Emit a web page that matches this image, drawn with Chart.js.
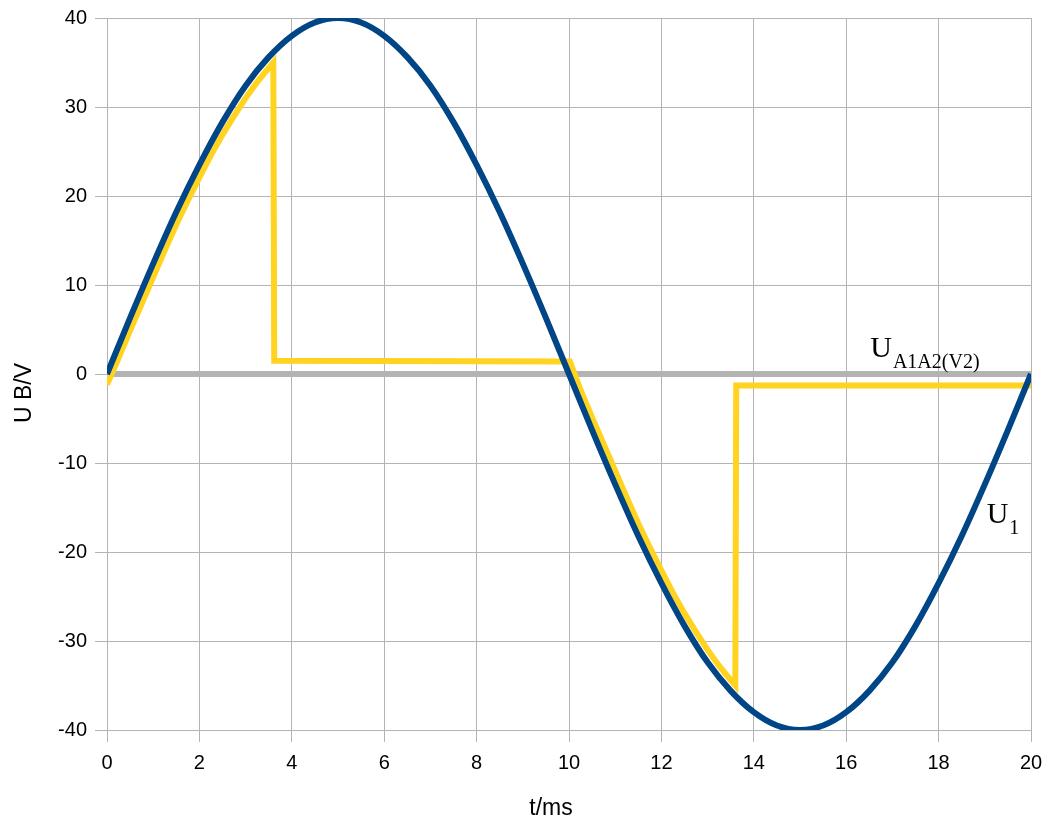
<!DOCTYPE html>
<html>
<head>
<meta charset="utf-8">
<title>U1 / UA1A2</title>
<script src="https://cdn.jsdelivr.net/npm/chart.js@4.4.1/dist/chart.umd.min.js"></script>
<style>
  html, body { margin: 0; padding: 0; background: #fff; }
  #chartBox { width: 1045px; height: 819px; }
</style>
</head>
<body>
<div id="chartBox"><canvas id="chart" width="1045" height="819"></canvas></div>
<script>
// U1 (supply), every 0.5 ms
const u1Time = [0, 0.5, 1, 1.5, 2, 2.5, 3, 3.5, 4, 4.5, 5, 5.5, 6, 6.5, 7, 7.5, 8, 8.5, 9, 9.5, 10,
  10.5, 11, 11.5, 12, 12.5, 13, 13.5, 14, 14.5, 15, 15.5, 16, 16.5, 17, 17.5, 18, 18.5, 19, 19.5, 20];
const u1Values = [0, 6.3, 12.4, 18.2, 23.5, 28.3, 32.4, 35.6, 38.0, 39.5, 40, 39.5, 38.0, 35.6, 32.4, 28.3, 23.5, 18.2, 12.4, 6.3, 0,
  -6.3, -12.4, -18.2, -23.5, -28.3, -32.4, -35.6, -38.0, -39.5, -40, -39.5, -38.0, -35.6, -32.4, -28.3, -23.5, -18.2, -12.4, -6.3, 0];

// yellow trace (switched output)
const yellowTime = [0, 0.25, 0.5, 0.75, 1, 1.25, 1.5, 1.75, 2, 2.25, 2.5, 2.75, 3, 3.25, 3.5, 3.6, 3.62,
  10.02, 10.25, 10.5, 10.75, 11, 11.25, 11.5, 11.75, 12, 12.25, 12.5, 12.75, 13, 13.25, 13.5, 13.6, 13.62, 20];
const yellowValues = [-1.2, 1.8, 4.9, 7.9, 10.9, 13.9, 16.8, 19.5, 22.1, 24.6, 26.9, 29.0, 31.0, 32.8, 34.4, 35.0, 1.5,
  1.4, -1.8, -4.9, -7.9, -10.9, -13.9, -16.8, -19.5, -22.1, -24.6, -26.9, -29.0, -31.0, -32.8, -34.4, -35.0, -1.3, -1.3];

// UA1A2(V2) trace
const grayTime = [0, 20];
const grayValues = [0, 0];

const xTicks = [0, 2, 4, 6, 8, 10, 12, 14, 16, 18, 20];
const yTicks = [-40, -30, -20, -10, 0, 10, 20, 30, 40];

const xTitle = "t/ms";
const yTitle = "U B/V";

// curve labels: main text, subscript, anchor in data units
const labelMain = ["U", "U"];
const labelSub = ["A1A2(V2)", "1"];
const labelT = [16.52, 19.04];
const labelV = [1.94, -16.74];

function toPoints(xs, ys) {
  return xs.map((x, i) => ({ x: x, y: ys[i] }));
}

const textPlugin = {
  id: "textPlugin",
  afterDatasetsDraw(chart) {
    const ctx = chart.ctx;
    const xs = chart.scales.x;
    const ys = chart.scales.y;
    const area = chart.chartArea;
    ctx.save();
    ctx.fillStyle = "#000";

    // axis titles
    ctx.font = "23px 'Liberation Sans', Arial, sans-serif";
    ctx.textAlign = "center";
    ctx.textBaseline = "alphabetic";
    ctx.fillText(xTitle, (area.left + area.right) / 2 - 18, 815);
    ctx.save();
    ctx.translate(31, (area.top + area.bottom) / 2 + 19);
    ctx.rotate(-Math.PI / 2);
    ctx.fillText(yTitle, 0, 0);
    ctx.restore();

    // curve labels
    ctx.textAlign = "left";
    labelMain.forEach((txt, i) => {
      const px = xs.getPixelForValue(labelT[i]);
      const py = ys.getPixelForValue(labelV[i]);
      ctx.font = "30px 'Liberation Serif', 'Times New Roman', serif";
      ctx.fillText(txt, px, py);
      const w = ctx.measureText(txt).width;
      ctx.font = "20px 'Liberation Serif', 'Times New Roman', serif";
      ctx.fillText(labelSub[i], px + w + 1, py + 11);
    });
    ctx.restore();
  }
};

const gridColor = "#b3b3b3";
const tickFont = { family: "'Liberation Sans', Arial, sans-serif", size: 20 };

const chart = new Chart(document.getElementById("chart"), {
  type: "line",
  data: {
    datasets: [
      {
        label: "U1",
        data: toPoints(u1Time, u1Values),
        borderColor: "#004586",
        borderWidth: 6,
        pointRadius: 0,
        cubicInterpolationMode: "monotone",
        order: 0
      },
      {
        label: "U",
        data: toPoints(yellowTime, yellowValues),
        borderColor: "#ffd320",
        borderWidth: 6,
        pointRadius: 0,
        tension: 0,
        order: 1
      },
      {
        label: "UA1A2(V2)",
        data: toPoints(grayTime, grayValues),
        borderColor: "#b3b3b3",
        borderWidth: 6,
        pointRadius: 0,
        tension: 0,
        order: 2
      }
    ]
  },
  options: {
    responsive: false,
    devicePixelRatio: 1,
    animation: false,
    layout: { padding: { top: 18, right: 14, left: 0, bottom: 0 } },
    plugins: {
      legend: { display: false },
      tooltip: { enabled: false }
    },
    scales: {
      x: {
        type: "linear",
        min: 0,
        max: 20,
        afterBuildTicks: (scale) => { scale.ticks = xTicks.map(v => ({ value: v })); },
        afterFit: (scale) => {
          scale.height = 89;
          scale.paddingLeft = 0;
          scale.paddingRight = 0;
        },
        grid: { color: gridColor, lineWidth: 1, tickLength: 12, drawTicks: true },
        border: { color: gridColor },
        ticks: { font: tickFont, color: "#000", padding: 9, maxRotation: 0 }
      },
      y: {
        type: "linear",
        min: -40,
        max: 40,
        afterBuildTicks: (scale) => { scale.ticks = yTicks.map(v => ({ value: v })); },
        afterFit: (scale) => {
          scale.width = 107;
          scale.paddingTop = 0;
          scale.paddingBottom = 0;
        },
        grid: { color: gridColor, lineWidth: 1, tickLength: 12, drawTicks: true },
        border: { color: gridColor },
        ticks: { font: tickFont, color: "#000", padding: 8 }
      }
    }
  },
  plugins: [textPlugin]
});
</script>
</body>
</html>
